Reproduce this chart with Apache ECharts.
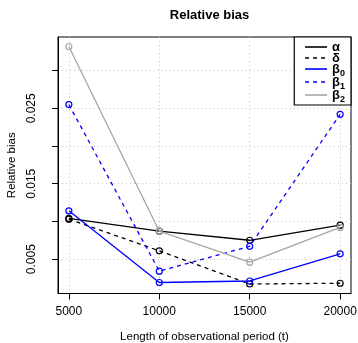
<!DOCTYPE html>
<html>
<head>
<meta charset="utf-8">
<script src="https://cdn.jsdelivr.net/npm/echarts@6/dist/echarts.min.js"></script>
<style>html,body{margin:0;padding:0;background:#fff}#c{width:358px;height:343px}</style>
</head>
<body>
<div id="c"></div>
<script>
const periods = [5000, 10000, 15000, 20000];
const alpha = [0.0104, 0.0087, 0.0075, 0.0095];
const delta = [0.0103, 0.0061, 0.0017, 0.0018];
const beta0 = [0.0114, 0.0019, 0.0021, 0.0057];
const beta1 = [0.0255, 0.0034, 0.0067, 0.0242];
const beta2 = [0.0332, 0.0087, 0.0046, 0.0092];
const seriesNames = ['α', 'δ', 'β0', 'β1', 'β2'];
const xTicks = [5000, 10000, 15000, 20000];
const yTicks = [0.005, 0.010, 0.015, 0.020, 0.025, 0.030];
const yLabels = [0.005, 0.015, 0.025];

const FONT = '"Liberation Sans", Arial, sans-serif';
const colors = ['#000000', '#000000', '#0000ff', '#0000ff', '#a6a6a6'];
const types = ['solid', [4, 4], 'solid', [4, 4], 'solid'];
const values = [alpha, delta, beta0, beta1, beta2];

const chart = echarts.init(document.getElementById('c'), null, {renderer: 'canvas'});
const series = seriesNames.map((n, i) => ({
  name: n,
  type: 'line',
  data: periods.map((p, j) => [p, values[i][j]]),
  symbol: 'circle',
  symbolSize: 6,
  itemStyle: {color: 'rgba(255,255,255,0)', borderColor: colors[i], borderWidth: 1.2},
  lineStyle: {color: colors[i], width: 1.3, type: types[i]},
  emphasis: {disabled: true},
  z: 3 + i
}));

chart.setOption({
  animation: false,
  backgroundColor: '#fff',
  title: {
    text: 'Relative bias',
    left: 204.5, top: 4, textAlign: 'center',
    textStyle: {fontFamily: FONT, fontWeight: 'bold', fontSize: 13, color: '#000'}
  },
  grid: {left: 58, right: 7, top: 37, bottom: 49.5, show: true, borderColor: '#000', borderWidth: 1,
    containLabel: false, outerBoundsMode: 'none'},
  legend: {
    orient: 'vertical', right: 7, top: 37,
    itemWidth: 22, itemHeight: 10, itemGap: -2,
    padding: [4, 6, 1, 10],
    borderColor: '#000', borderWidth: 1.2, backgroundColor: '#fff',
    itemStyle: {opacity: 0},
    lineStyle: {width: 1.6},
    selectedMode: false,
    data: seriesNames,
    formatter: function (n) {
      if (n.length > 1) return '{g|' + n[0] + '}{s|' + n.slice(1) + '}';
      return '{g|' + n + '}';
    },
    textStyle: {
      fontFamily: FONT, color: '#000',
      rich: {
        g: {fontFamily: FONT, fontWeight: 'bold', fontSize: 13, lineHeight: 12, verticalAlign: 'top', color: '#000'},
        s: {fontFamily: FONT, fontWeight: 'bold', fontSize: 9, lineHeight: 6, padding: [6, 0, 0, 0], verticalAlign: 'top', color: '#000'}
      }
    },
    z: 20
  },
  xAxis: {
    type: 'value', min: 4400, max: 20600,
    name: 'Length of observational period (t)', nameLocation: 'middle', nameGap: 37,
    nameTextStyle: {fontFamily: FONT, fontSize: 11.5, color: '#000'},
    axisLine: {show: true, onZero: false, lineStyle: {color: '#000', width: 1}},
    axisTick: {show: true, length: 6, lineStyle: {color: '#000'}, customValues: xTicks},
    axisLabel: {fontFamily: FONT, fontSize: 12, color: '#000', margin: 12, customValues: xTicks,
      formatter: v => String(v)},
    splitLine: {show: true, lineStyle: {color: '#c4c4c4', type: [1, 3], width: 1}}
  },
  yAxis: {
    type: 'value', min: 0.00044, max: 0.03446,
    name: 'Relative bias', nameLocation: 'middle', nameGap: 40, nameRotate: 90,
    nameTextStyle: {fontFamily: FONT, fontSize: 11.5, color: '#000'},
    axisLine: {show: true, onZero: false, lineStyle: {color: '#000', width: 1}},
    axisTick: {show: true, length: 6, lineStyle: {color: '#000'}, customValues: yTicks},
    axisLabel: {fontFamily: FONT, fontSize: 12, color: '#000', margin: 20, rotate: 90,
      customValues: yLabels, formatter: v => v.toFixed(3)},
    splitLine: {show: true, lineStyle: {color: '#c4c4c4', type: [1, 3], width: 1}}
  },
  series: series
});
</script>
</body>
</html>
